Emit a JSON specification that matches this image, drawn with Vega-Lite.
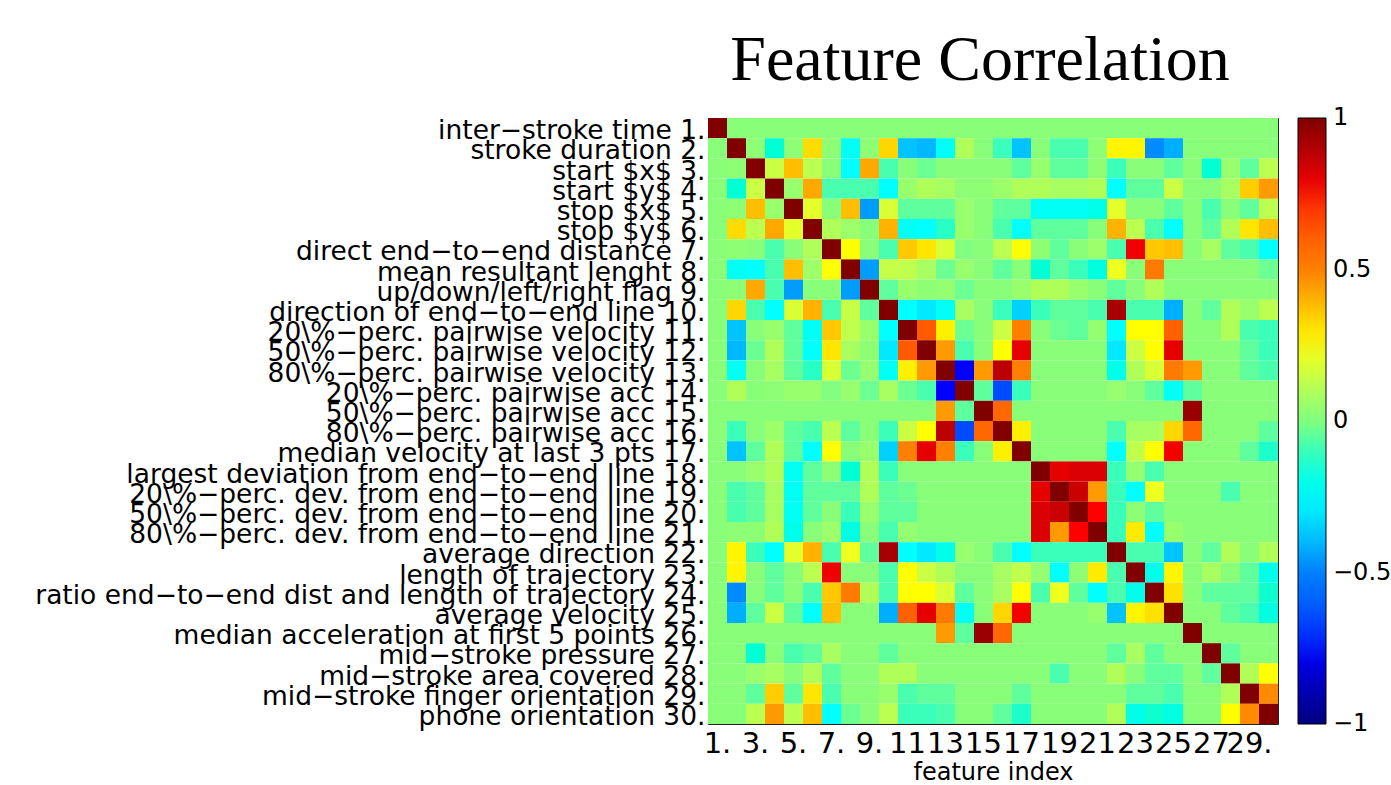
{
"$schema": "https://vega.github.io/schema/vega-lite/v6.json",
"autosize": "none",
"padding": {"left": 708, "top": 118, "right": 113, "bottom": 61},
"width": 570,
"height": 606,
"background": "white",
"title": {"text": "Feature Correlation", "font": "Liberation Serif", "fontSize": 64, "fontWeight": "normal", "color": "black", "anchor": "middle", "frame": "group", "baseline": "alphabetic", "offset": 38, "dx": -13, "dy": 64},
"datasets": {
"names": [
{"r":1,"name":"inter−stroke time 1."},
{"r":2,"name":"stroke duration 2."},
{"r":3,"name":"start $x$ 3."},
{"r":4,"name":"start $y$ 4."},
{"r":5,"name":"stop $x$ 5."},
{"r":6,"name":"stop $y$ 6."},
{"r":7,"name":"direct end−to−end distance 7."},
{"r":8,"name":"mean resultant lenght 8."},
{"r":9,"name":"up/down/left/right flag 9."},
{"r":10,"name":"direction of end−to−end line 10."},
{"r":11,"name":"20\\%−perc. pairwise velocity 11."},
{"r":12,"name":"50\\%−perc. pairwise velocity 12."},
{"r":13,"name":"80\\%−perc. pairwise velocity 13."},
{"r":14,"name":"20\\%−perc. pairwise acc 14."},
{"r":15,"name":"50\\%−perc. pairwise acc 15."},
{"r":16,"name":"80\\%−perc. pairwise acc 16."},
{"r":17,"name":"median velocity at last 3 pts 17."},
{"r":18,"name":"largest deviation from end−to−end line 18."},
{"r":19,"name":"20\\%−perc. dev. from end−to−end line 19."},
{"r":20,"name":"50\\%−perc. dev. from end−to−end line 20."},
{"r":21,"name":"80\\%−perc. dev. from end−to−end line 21."},
{"r":22,"name":"average direction 22."},
{"r":23,"name":"length of trajectory 23."},
{"r":24,"name":"ratio end−to−end dist and length of trajectory 24."},
{"r":25,"name":"average velocity 25."},
{"r":26,"name":"median acceleration at first 5 points 26."},
{"r":27,"name":"mid−stroke pressure 27."},
{"r":28,"name":"mid−stroke area covered 28."},
{"r":29,"name":"mid−stroke finger orientation 29."},
{"r":30,"name":"phone orientation 30."}
]
},
"data": {"values": [
{"r":1,"c":1,"v":1},{"r":1,"c":2,"v":0.02},{"r":1,"c":3,"v":0.02},{"r":1,"c":4,"v":0.02},{"r":1,"c":5,"v":0.02},{"r":1,"c":6,"v":0.02},{"r":1,"c":7,"v":0.02},{"r":1,"c":8,"v":0.02},{"r":1,"c":9,"v":0.02},{"r":1,"c":10,"v":0.02},{"r":1,"c":11,"v":0.02},{"r":1,"c":12,"v":0.02},{"r":1,"c":13,"v":0.02},{"r":1,"c":14,"v":0.02},{"r":1,"c":15,"v":0.02},{"r":1,"c":16,"v":0.02},{"r":1,"c":17,"v":0.02},{"r":1,"c":18,"v":0.02},{"r":1,"c":19,"v":0.02},{"r":1,"c":20,"v":0.02},{"r":1,"c":21,"v":0.02},{"r":1,"c":22,"v":0.02},{"r":1,"c":23,"v":0.02},{"r":1,"c":24,"v":0.02},{"r":1,"c":25,"v":0.02},{"r":1,"c":26,"v":0.02},{"r":1,"c":27,"v":0.02},{"r":1,"c":28,"v":0.02},{"r":1,"c":29,"v":0.02},{"r":1,"c":30,"v":0.02},
{"r":2,"c":1,"v":0.02},{"r":2,"c":2,"v":1},{"r":2,"c":3,"v":0.03},{"r":2,"c":4,"v":-0.15},{"r":2,"c":5,"v":0.03},{"r":2,"c":6,"v":0.32},{"r":2,"c":7,"v":0.03},{"r":2,"c":8,"v":-0.22},{"r":2,"c":9,"v":0.03},{"r":2,"c":10,"v":0.33},{"r":2,"c":11,"v":-0.38},{"r":2,"c":12,"v":-0.4},{"r":2,"c":13,"v":-0.22},{"r":2,"c":14,"v":0.1},{"r":2,"c":15,"v":0.02},{"r":2,"c":16,"v":-0.1},{"r":2,"c":17,"v":-0.38},{"r":2,"c":18,"v":0.02},{"r":2,"c":19,"v":-0.08},{"r":2,"c":20,"v":-0.08},{"r":2,"c":21,"v":0.03},{"r":2,"c":22,"v":0.27},{"r":2,"c":23,"v":0.27},{"r":2,"c":24,"v":-0.48},{"r":2,"c":25,"v":-0.42},{"r":2,"c":26,"v":0.02},{"r":2,"c":27,"v":0.02},{"r":2,"c":28,"v":0.02},{"r":2,"c":29,"v":0.02},{"r":2,"c":30,"v":0.02},
{"r":3,"c":1,"v":0.02},{"r":3,"c":2,"v":0.03},{"r":3,"c":3,"v":1},{"r":3,"c":4,"v":0.15},{"r":3,"c":5,"v":0.38},{"r":3,"c":6,"v":0.12},{"r":3,"c":7,"v":0.02},{"r":3,"c":8,"v":-0.25},{"r":3,"c":9,"v":0.42},{"r":3,"c":10,"v":-0.08},{"r":3,"c":11,"v":0.02},{"r":3,"c":12,"v":-0.03},{"r":3,"c":13,"v":0.02},{"r":3,"c":14,"v":0.02},{"r":3,"c":15,"v":0.02},{"r":3,"c":16,"v":0.02},{"r":3,"c":17,"v":-0.05},{"r":3,"c":18,"v":0.05},{"r":3,"c":19,"v":-0.05},{"r":3,"c":20,"v":-0.05},{"r":3,"c":21,"v":0.03},{"r":3,"c":22,"v":-0.1},{"r":3,"c":23,"v":0.02},{"r":3,"c":24,"v":0.02},{"r":3,"c":25,"v":-0.05},{"r":3,"c":26,"v":0.02},{"r":3,"c":27,"v":-0.15},{"r":3,"c":28,"v":0.05},{"r":3,"c":29,"v":-0.05},{"r":3,"c":30,"v":0.12},
{"r":4,"c":1,"v":0.02},{"r":4,"c":2,"v":-0.15},{"r":4,"c":3,"v":0.15},{"r":4,"c":4,"v":1},{"r":4,"c":5,"v":0.05},{"r":4,"c":6,"v":0.42},{"r":4,"c":7,"v":-0.08},{"r":4,"c":8,"v":-0.08},{"r":4,"c":9,"v":-0.08},{"r":4,"c":10,"v":-0.25},{"r":4,"c":11,"v":0.05},{"r":4,"c":12,"v":0.1},{"r":4,"c":13,"v":0.08},{"r":4,"c":14,"v":0.03},{"r":4,"c":15,"v":0.03},{"r":4,"c":16,"v":0.06},{"r":4,"c":17,"v":0.1},{"r":4,"c":18,"v":0.1},{"r":4,"c":19,"v":0.08},{"r":4,"c":20,"v":0.08},{"r":4,"c":21,"v":0.1},{"r":4,"c":22,"v":-0.25},{"r":4,"c":23,"v":-0.05},{"r":4,"c":24,"v":-0.05},{"r":4,"c":25,"v":0.15},{"r":4,"c":26,"v":0.02},{"r":4,"c":27,"v":0.02},{"r":4,"c":28,"v":0.08},{"r":4,"c":29,"v":0.35},{"r":4,"c":30,"v":0.45},
{"r":5,"c":1,"v":0.02},{"r":5,"c":2,"v":0.03},{"r":5,"c":3,"v":0.38},{"r":5,"c":4,"v":0.05},{"r":5,"c":5,"v":1},{"r":5,"c":6,"v":0.2},{"r":5,"c":7,"v":0.02},{"r":5,"c":8,"v":0.38},{"r":5,"c":9,"v":-0.45},{"r":5,"c":10,"v":0.18},{"r":5,"c":11,"v":-0.05},{"r":5,"c":12,"v":-0.05},{"r":5,"c":13,"v":-0.05},{"r":5,"c":14,"v":0.05},{"r":5,"c":15,"v":0.02},{"r":5,"c":16,"v":-0.05},{"r":5,"c":17,"v":-0.05},{"r":5,"c":18,"v":-0.22},{"r":5,"c":19,"v":-0.22},{"r":5,"c":20,"v":-0.22},{"r":5,"c":21,"v":-0.2},{"r":5,"c":22,"v":0.2},{"r":5,"c":23,"v":0.02},{"r":5,"c":24,"v":0.02},{"r":5,"c":25,"v":-0.05},{"r":5,"c":26,"v":0.02},{"r":5,"c":27,"v":-0.08},{"r":5,"c":28,"v":0.02},{"r":5,"c":29,"v":-0.05},{"r":5,"c":30,"v":0.12},
{"r":6,"c":1,"v":0.02},{"r":6,"c":2,"v":0.32},{"r":6,"c":3,"v":0.12},{"r":6,"c":4,"v":0.42},{"r":6,"c":5,"v":0.2},{"r":6,"c":6,"v":1},{"r":6,"c":7,"v":0.1},{"r":6,"c":8,"v":0.06},{"r":6,"c":9,"v":0.02},{"r":6,"c":10,"v":0.4},{"r":6,"c":11,"v":-0.22},{"r":6,"c":12,"v":-0.25},{"r":6,"c":13,"v":-0.12},{"r":6,"c":14,"v":0.05},{"r":6,"c":15,"v":0.02},{"r":6,"c":16,"v":-0.08},{"r":6,"c":17,"v":-0.25},{"r":6,"c":18,"v":-0.05},{"r":6,"c":19,"v":-0.05},{"r":6,"c":20,"v":-0.05},{"r":6,"c":21,"v":0.02},{"r":6,"c":22,"v":0.4},{"r":6,"c":23,"v":0.12},{"r":6,"c":24,"v":-0.08},{"r":6,"c":25,"v":-0.25},{"r":6,"c":26,"v":0.02},{"r":6,"c":27,"v":-0.05},{"r":6,"c":28,"v":0.1},{"r":6,"c":29,"v":0.3},{"r":6,"c":30,"v":0.38},
{"r":7,"c":1,"v":0.02},{"r":7,"c":2,"v":0.03},{"r":7,"c":3,"v":0.02},{"r":7,"c":4,"v":-0.08},{"r":7,"c":5,"v":0.02},{"r":7,"c":6,"v":0.1},{"r":7,"c":7,"v":1},{"r":7,"c":8,"v":0.25},{"r":7,"c":9,"v":0.02},{"r":7,"c":10,"v":-0.08},{"r":7,"c":11,"v":0.36},{"r":7,"c":12,"v":0.3},{"r":7,"c":13,"v":0.18},{"r":7,"c":14,"v":0},{"r":7,"c":15,"v":0.02},{"r":7,"c":16,"v":0.12},{"r":7,"c":17,"v":0.25},{"r":7,"c":18,"v":0.03},{"r":7,"c":19,"v":-0.05},{"r":7,"c":20,"v":0.02},{"r":7,"c":21,"v":0.06},{"r":7,"c":22,"v":-0.08},{"r":7,"c":23,"v":0.78},{"r":7,"c":24,"v":0.36},{"r":7,"c":25,"v":0.38},{"r":7,"c":26,"v":0.02},{"r":7,"c":27,"v":0.08},{"r":7,"c":28,"v":-0.05},{"r":7,"c":29,"v":-0.08},{"r":7,"c":30,"v":-0.25},
{"r":8,"c":1,"v":0.02},{"r":8,"c":2,"v":-0.22},{"r":8,"c":3,"v":-0.25},{"r":8,"c":4,"v":-0.08},{"r":8,"c":5,"v":0.38},{"r":8,"c":6,"v":0.06},{"r":8,"c":7,"v":0.25},{"r":8,"c":8,"v":1},{"r":8,"c":9,"v":-0.45},{"r":8,"c":10,"v":0.14},{"r":8,"c":11,"v":0.13},{"r":8,"c":12,"v":0.08},{"r":8,"c":13,"v":-0.03},{"r":8,"c":14,"v":0.05},{"r":8,"c":15,"v":0.02},{"r":8,"c":16,"v":-0.05},{"r":8,"c":17,"v":0.02},{"r":8,"c":18,"v":-0.15},{"r":8,"c":19,"v":-0.05},{"r":8,"c":20,"v":-0.1},{"r":8,"c":21,"v":-0.18},{"r":8,"c":22,"v":0.22},{"r":8,"c":23,"v":0.02},{"r":8,"c":24,"v":0.52},{"r":8,"c":25,"v":0.02},{"r":8,"c":26,"v":0.02},{"r":8,"c":27,"v":0.02},{"r":8,"c":28,"v":0.02},{"r":8,"c":29,"v":0.02},{"r":8,"c":30,"v":-0.03},
{"r":9,"c":1,"v":0.02},{"r":9,"c":2,"v":0.03},{"r":9,"c":3,"v":0.42},{"r":9,"c":4,"v":-0.08},{"r":9,"c":5,"v":-0.45},{"r":9,"c":6,"v":0.02},{"r":9,"c":7,"v":0.02},{"r":9,"c":8,"v":-0.45},{"r":9,"c":9,"v":1},{"r":9,"c":10,"v":-0.05},{"r":9,"c":11,"v":0.05},{"r":9,"c":12,"v":0.03},{"r":9,"c":13,"v":0.04},{"r":9,"c":14,"v":-0.03},{"r":9,"c":15,"v":0.02},{"r":9,"c":16,"v":0.02},{"r":9,"c":17,"v":0.05},{"r":9,"c":18,"v":0.1},{"r":9,"c":19,"v":0.1},{"r":9,"c":20,"v":0.05},{"r":9,"c":21,"v":0.02},{"r":9,"c":22,"v":-0.05},{"r":9,"c":23,"v":0.02},{"r":9,"c":24,"v":0.1},{"r":9,"c":25,"v":0.02},{"r":9,"c":26,"v":0.02},{"r":9,"c":27,"v":0.02},{"r":9,"c":28,"v":0.02},{"r":9,"c":29,"v":0.02},{"r":9,"c":30,"v":0.02},
{"r":10,"c":1,"v":0.02},{"r":10,"c":2,"v":0.33},{"r":10,"c":3,"v":-0.08},{"r":10,"c":4,"v":-0.25},{"r":10,"c":5,"v":0.18},{"r":10,"c":6,"v":0.4},{"r":10,"c":7,"v":-0.08},{"r":10,"c":8,"v":0.14},{"r":10,"c":9,"v":-0.05},{"r":10,"c":10,"v":1},{"r":10,"c":11,"v":-0.25},{"r":10,"c":12,"v":-0.3},{"r":10,"c":13,"v":-0.22},{"r":10,"c":14,"v":0.08},{"r":10,"c":15,"v":0.02},{"r":10,"c":16,"v":-0.1},{"r":10,"c":17,"v":-0.35},{"r":10,"c":18,"v":-0.1},{"r":10,"c":19,"v":-0.05},{"r":10,"c":20,"v":-0.05},{"r":10,"c":21,"v":-0.08},{"r":10,"c":22,"v":0.92},{"r":10,"c":23,"v":-0.08},{"r":10,"c":24,"v":-0.08},{"r":10,"c":25,"v":-0.42},{"r":10,"c":26,"v":0.02},{"r":10,"c":27,"v":-0.05},{"r":10,"c":28,"v":0.1},{"r":10,"c":29,"v":0.05},{"r":10,"c":30,"v":0.12},
{"r":11,"c":1,"v":0.02},{"r":11,"c":2,"v":-0.38},{"r":11,"c":3,"v":0.02},{"r":11,"c":4,"v":0.05},{"r":11,"c":5,"v":-0.05},{"r":11,"c":6,"v":-0.22},{"r":11,"c":7,"v":0.36},{"r":11,"c":8,"v":0.13},{"r":11,"c":9,"v":0.05},{"r":11,"c":10,"v":-0.25},{"r":11,"c":11,"v":1},{"r":11,"c":12,"v":0.62},{"r":11,"c":13,"v":0.28},{"r":11,"c":14,"v":-0.03},{"r":11,"c":15,"v":0.02},{"r":11,"c":16,"v":0.15},{"r":11,"c":17,"v":0.5},{"r":11,"c":18,"v":0.02},{"r":11,"c":19,"v":-0.03},{"r":11,"c":20,"v":-0.05},{"r":11,"c":21,"v":0.04},{"r":11,"c":22,"v":-0.25},{"r":11,"c":23,"v":0.25},{"r":11,"c":24,"v":0.25},{"r":11,"c":25,"v":0.6},{"r":11,"c":26,"v":0.02},{"r":11,"c":27,"v":0.02},{"r":11,"c":28,"v":0.1},{"r":11,"c":29,"v":-0.08},{"r":11,"c":30,"v":-0.1},
{"r":12,"c":1,"v":0.02},{"r":12,"c":2,"v":-0.4},{"r":12,"c":3,"v":-0.03},{"r":12,"c":4,"v":0.1},{"r":12,"c":5,"v":-0.05},{"r":12,"c":6,"v":-0.25},{"r":12,"c":7,"v":0.3},{"r":12,"c":8,"v":0.08},{"r":12,"c":9,"v":0.03},{"r":12,"c":10,"v":-0.3},{"r":12,"c":11,"v":0.62},{"r":12,"c":12,"v":1},{"r":12,"c":13,"v":0.45},{"r":12,"c":14,"v":-0.08},{"r":12,"c":15,"v":0.02},{"r":12,"c":16,"v":0.25},{"r":12,"c":17,"v":0.8},{"r":12,"c":18,"v":0.02},{"r":12,"c":19,"v":0.02},{"r":12,"c":20,"v":0.02},{"r":12,"c":21,"v":0.02},{"r":12,"c":22,"v":-0.3},{"r":12,"c":23,"v":0.15},{"r":12,"c":24,"v":0.25},{"r":12,"c":25,"v":0.8},{"r":12,"c":26,"v":0.02},{"r":12,"c":27,"v":0.02},{"r":12,"c":28,"v":0.02},{"r":12,"c":29,"v":-0.05},{"r":12,"c":30,"v":-0.1},
{"r":13,"c":1,"v":0.02},{"r":13,"c":2,"v":-0.22},{"r":13,"c":3,"v":0.02},{"r":13,"c":4,"v":0.08},{"r":13,"c":5,"v":-0.05},{"r":13,"c":6,"v":-0.12},{"r":13,"c":7,"v":0.18},{"r":13,"c":8,"v":-0.03},{"r":13,"c":9,"v":0.04},{"r":13,"c":10,"v":-0.22},{"r":13,"c":11,"v":0.28},{"r":13,"c":12,"v":0.45},{"r":13,"c":13,"v":1},{"r":13,"c":14,"v":-0.75},{"r":13,"c":15,"v":0.45},{"r":13,"c":16,"v":0.88},{"r":13,"c":17,"v":0.5},{"r":13,"c":18,"v":0.02},{"r":13,"c":19,"v":0.02},{"r":13,"c":20,"v":0.02},{"r":13,"c":21,"v":0.02},{"r":13,"c":22,"v":-0.2},{"r":13,"c":23,"v":0.1},{"r":13,"c":24,"v":0.18},{"r":13,"c":25,"v":0.52},{"r":13,"c":26,"v":0.45},{"r":13,"c":27,"v":0.02},{"r":13,"c":28,"v":0.02},{"r":13,"c":29,"v":-0.05},{"r":13,"c":30,"v":-0.08},
{"r":14,"c":1,"v":0.02},{"r":14,"c":2,"v":0.1},{"r":14,"c":3,"v":0.02},{"r":14,"c":4,"v":0.03},{"r":14,"c":5,"v":0.05},{"r":14,"c":6,"v":0.05},{"r":14,"c":7,"v":0},{"r":14,"c":8,"v":0.05},{"r":14,"c":9,"v":-0.03},{"r":14,"c":10,"v":0.08},{"r":14,"c":11,"v":-0.03},{"r":14,"c":12,"v":-0.08},{"r":14,"c":13,"v":-0.75},{"r":14,"c":14,"v":1},{"r":14,"c":15,"v":-0.05},{"r":14,"c":16,"v":-0.65},{"r":14,"c":17,"v":-0.1},{"r":14,"c":18,"v":0.02},{"r":14,"c":19,"v":0.02},{"r":14,"c":20,"v":0.02},{"r":14,"c":21,"v":0.02},{"r":14,"c":22,"v":0.05},{"r":14,"c":23,"v":0.02},{"r":14,"c":24,"v":-0.05},{"r":14,"c":25,"v":-0.22},{"r":14,"c":26,"v":-0.05},{"r":14,"c":27,"v":0.02},{"r":14,"c":28,"v":0.02},{"r":14,"c":29,"v":0.02},{"r":14,"c":30,"v":0.02},
{"r":15,"c":1,"v":0.02},{"r":15,"c":2,"v":0.02},{"r":15,"c":3,"v":0.02},{"r":15,"c":4,"v":0.02},{"r":15,"c":5,"v":0.02},{"r":15,"c":6,"v":0.02},{"r":15,"c":7,"v":0.02},{"r":15,"c":8,"v":0.02},{"r":15,"c":9,"v":0.02},{"r":15,"c":10,"v":0.02},{"r":15,"c":11,"v":0.02},{"r":15,"c":12,"v":0.02},{"r":15,"c":13,"v":0.45},{"r":15,"c":14,"v":-0.05},{"r":15,"c":15,"v":1},{"r":15,"c":16,"v":0.58},{"r":15,"c":17,"v":0.02},{"r":15,"c":18,"v":0.02},{"r":15,"c":19,"v":0.02},{"r":15,"c":20,"v":0.02},{"r":15,"c":21,"v":0.02},{"r":15,"c":22,"v":0.02},{"r":15,"c":23,"v":0.02},{"r":15,"c":24,"v":0.02},{"r":15,"c":25,"v":0.02},{"r":15,"c":26,"v":0.95},{"r":15,"c":27,"v":0.02},{"r":15,"c":28,"v":0.02},{"r":15,"c":29,"v":0.02},{"r":15,"c":30,"v":0.02},
{"r":16,"c":1,"v":0.02},{"r":16,"c":2,"v":-0.1},{"r":16,"c":3,"v":0.02},{"r":16,"c":4,"v":0.06},{"r":16,"c":5,"v":-0.05},{"r":16,"c":6,"v":-0.08},{"r":16,"c":7,"v":0.12},{"r":16,"c":8,"v":-0.05},{"r":16,"c":9,"v":0.02},{"r":16,"c":10,"v":-0.1},{"r":16,"c":11,"v":0.15},{"r":16,"c":12,"v":0.25},{"r":16,"c":13,"v":0.88},{"r":16,"c":14,"v":-0.65},{"r":16,"c":15,"v":0.58},{"r":16,"c":16,"v":1},{"r":16,"c":17,"v":0.28},{"r":16,"c":18,"v":0.02},{"r":16,"c":19,"v":0.02},{"r":16,"c":20,"v":0.02},{"r":16,"c":21,"v":0.02},{"r":16,"c":22,"v":-0.08},{"r":16,"c":23,"v":0.08},{"r":16,"c":24,"v":0.08},{"r":16,"c":25,"v":0.33},{"r":16,"c":26,"v":0.58},{"r":16,"c":27,"v":0.02},{"r":16,"c":28,"v":0.02},{"r":16,"c":29,"v":0.02},{"r":16,"c":30,"v":-0.05},
{"r":17,"c":1,"v":0.02},{"r":17,"c":2,"v":-0.38},{"r":17,"c":3,"v":-0.05},{"r":17,"c":4,"v":0.1},{"r":17,"c":5,"v":-0.05},{"r":17,"c":6,"v":-0.25},{"r":17,"c":7,"v":0.25},{"r":17,"c":8,"v":0.02},{"r":17,"c":9,"v":0.05},{"r":17,"c":10,"v":-0.35},{"r":17,"c":11,"v":0.5},{"r":17,"c":12,"v":0.8},{"r":17,"c":13,"v":0.5},{"r":17,"c":14,"v":-0.1},{"r":17,"c":15,"v":0.02},{"r":17,"c":16,"v":0.28},{"r":17,"c":17,"v":1},{"r":17,"c":18,"v":0.02},{"r":17,"c":19,"v":0.02},{"r":17,"c":20,"v":0.02},{"r":17,"c":21,"v":0.02},{"r":17,"c":22,"v":-0.25},{"r":17,"c":23,"v":0.13},{"r":17,"c":24,"v":0.25},{"r":17,"c":25,"v":0.77},{"r":17,"c":26,"v":0.02},{"r":17,"c":27,"v":0.02},{"r":17,"c":28,"v":0.02},{"r":17,"c":29,"v":-0.05},{"r":17,"c":30,"v":-0.13},
{"r":18,"c":1,"v":0.02},{"r":18,"c":2,"v":0.02},{"r":18,"c":3,"v":0.05},{"r":18,"c":4,"v":0.1},{"r":18,"c":5,"v":-0.22},{"r":18,"c":6,"v":-0.05},{"r":18,"c":7,"v":0.03},{"r":18,"c":8,"v":-0.15},{"r":18,"c":9,"v":0.1},{"r":18,"c":10,"v":-0.1},{"r":18,"c":11,"v":0.02},{"r":18,"c":12,"v":0.02},{"r":18,"c":13,"v":0.02},{"r":18,"c":14,"v":0.02},{"r":18,"c":15,"v":0.02},{"r":18,"c":16,"v":0.02},{"r":18,"c":17,"v":0.02},{"r":18,"c":18,"v":1},{"r":18,"c":19,"v":0.8},{"r":18,"c":20,"v":0.82},{"r":18,"c":21,"v":0.82},{"r":18,"c":22,"v":-0.1},{"r":18,"c":23,"v":0.04},{"r":18,"c":24,"v":-0.08},{"r":18,"c":25,"v":0.02},{"r":18,"c":26,"v":0.02},{"r":18,"c":27,"v":0.02},{"r":18,"c":28,"v":0.02},{"r":18,"c":29,"v":0.02},{"r":18,"c":30,"v":0.02},
{"r":19,"c":1,"v":0.02},{"r":19,"c":2,"v":-0.08},{"r":19,"c":3,"v":-0.05},{"r":19,"c":4,"v":0.08},{"r":19,"c":5,"v":-0.22},{"r":19,"c":6,"v":-0.05},{"r":19,"c":7,"v":-0.05},{"r":19,"c":8,"v":-0.05},{"r":19,"c":9,"v":0.1},{"r":19,"c":10,"v":-0.05},{"r":19,"c":11,"v":-0.03},{"r":19,"c":12,"v":0.02},{"r":19,"c":13,"v":0.02},{"r":19,"c":14,"v":0.02},{"r":19,"c":15,"v":0.02},{"r":19,"c":16,"v":0.02},{"r":19,"c":17,"v":0.02},{"r":19,"c":18,"v":0.8},{"r":19,"c":19,"v":1},{"r":19,"c":20,"v":0.85},{"r":19,"c":21,"v":0.45},{"r":19,"c":22,"v":-0.1},{"r":19,"c":23,"v":-0.25},{"r":19,"c":24,"v":0.22},{"r":19,"c":25,"v":0.02},{"r":19,"c":26,"v":0.02},{"r":19,"c":27,"v":0.02},{"r":19,"c":28,"v":-0.08},{"r":19,"c":29,"v":0.02},{"r":19,"c":30,"v":0.02},
{"r":20,"c":1,"v":0.02},{"r":20,"c":2,"v":-0.08},{"r":20,"c":3,"v":-0.05},{"r":20,"c":4,"v":0.08},{"r":20,"c":5,"v":-0.22},{"r":20,"c":6,"v":-0.05},{"r":20,"c":7,"v":0.02},{"r":20,"c":8,"v":-0.1},{"r":20,"c":9,"v":0.05},{"r":20,"c":10,"v":-0.05},{"r":20,"c":11,"v":-0.05},{"r":20,"c":12,"v":0.02},{"r":20,"c":13,"v":0.02},{"r":20,"c":14,"v":0.02},{"r":20,"c":15,"v":0.02},{"r":20,"c":16,"v":0.02},{"r":20,"c":17,"v":0.02},{"r":20,"c":18,"v":0.82},{"r":20,"c":19,"v":0.85},{"r":20,"c":20,"v":1},{"r":20,"c":21,"v":0.75},{"r":20,"c":22,"v":-0.1},{"r":20,"c":23,"v":0.03},{"r":20,"c":24,"v":-0.05},{"r":20,"c":25,"v":0.02},{"r":20,"c":26,"v":0.02},{"r":20,"c":27,"v":0.02},{"r":20,"c":28,"v":0.02},{"r":20,"c":29,"v":0.02},{"r":20,"c":30,"v":0.02},
{"r":21,"c":1,"v":0.02},{"r":21,"c":2,"v":0.03},{"r":21,"c":3,"v":0.03},{"r":21,"c":4,"v":0.1},{"r":21,"c":5,"v":-0.2},{"r":21,"c":6,"v":0.02},{"r":21,"c":7,"v":0.06},{"r":21,"c":8,"v":-0.18},{"r":21,"c":9,"v":0.02},{"r":21,"c":10,"v":-0.08},{"r":21,"c":11,"v":0.04},{"r":21,"c":12,"v":0.02},{"r":21,"c":13,"v":0.02},{"r":21,"c":14,"v":0.02},{"r":21,"c":15,"v":0.02},{"r":21,"c":16,"v":0.02},{"r":21,"c":17,"v":0.02},{"r":21,"c":18,"v":0.82},{"r":21,"c":19,"v":0.45},{"r":21,"c":20,"v":0.75},{"r":21,"c":21,"v":1},{"r":21,"c":22,"v":-0.1},{"r":21,"c":23,"v":0.29},{"r":21,"c":24,"v":-0.25},{"r":21,"c":25,"v":0.05},{"r":21,"c":26,"v":0.02},{"r":21,"c":27,"v":0.02},{"r":21,"c":28,"v":0.02},{"r":21,"c":29,"v":0.02},{"r":21,"c":30,"v":0.02},
{"r":22,"c":1,"v":0.02},{"r":22,"c":2,"v":0.27},{"r":22,"c":3,"v":-0.1},{"r":22,"c":4,"v":-0.25},{"r":22,"c":5,"v":0.2},{"r":22,"c":6,"v":0.4},{"r":22,"c":7,"v":-0.08},{"r":22,"c":8,"v":0.22},{"r":22,"c":9,"v":-0.05},{"r":22,"c":10,"v":0.92},{"r":22,"c":11,"v":-0.25},{"r":22,"c":12,"v":-0.3},{"r":22,"c":13,"v":-0.2},{"r":22,"c":14,"v":0.05},{"r":22,"c":15,"v":0.02},{"r":22,"c":16,"v":-0.08},{"r":22,"c":17,"v":-0.25},{"r":22,"c":18,"v":-0.1},{"r":22,"c":19,"v":-0.1},{"r":22,"c":20,"v":-0.1},{"r":22,"c":21,"v":-0.1},{"r":22,"c":22,"v":1},{"r":22,"c":23,"v":-0.08},{"r":22,"c":24,"v":-0.08},{"r":22,"c":25,"v":-0.38},{"r":22,"c":26,"v":0.02},{"r":22,"c":27,"v":-0.05},{"r":22,"c":28,"v":0.1},{"r":22,"c":29,"v":0.02},{"r":22,"c":30,"v":0.1},
{"r":23,"c":1,"v":0.02},{"r":23,"c":2,"v":0.27},{"r":23,"c":3,"v":0.02},{"r":23,"c":4,"v":-0.05},{"r":23,"c":5,"v":0.02},{"r":23,"c":6,"v":0.12},{"r":23,"c":7,"v":0.78},{"r":23,"c":8,"v":0.02},{"r":23,"c":9,"v":0.02},{"r":23,"c":10,"v":-0.08},{"r":23,"c":11,"v":0.25},{"r":23,"c":12,"v":0.15},{"r":23,"c":13,"v":0.1},{"r":23,"c":14,"v":0.02},{"r":23,"c":15,"v":0.02},{"r":23,"c":16,"v":0.08},{"r":23,"c":17,"v":0.13},{"r":23,"c":18,"v":0.04},{"r":23,"c":19,"v":-0.25},{"r":23,"c":20,"v":0.03},{"r":23,"c":21,"v":0.29},{"r":23,"c":22,"v":-0.08},{"r":23,"c":23,"v":1},{"r":23,"c":24,"v":-0.2},{"r":23,"c":25,"v":0.27},{"r":23,"c":26,"v":0.02},{"r":23,"c":27,"v":0.08},{"r":23,"c":28,"v":0.02},{"r":23,"c":29,"v":-0.05},{"r":23,"c":30,"v":-0.2},
{"r":24,"c":1,"v":0.02},{"r":24,"c":2,"v":-0.48},{"r":24,"c":3,"v":0.02},{"r":24,"c":4,"v":-0.05},{"r":24,"c":5,"v":0.02},{"r":24,"c":6,"v":-0.08},{"r":24,"c":7,"v":0.36},{"r":24,"c":8,"v":0.52},{"r":24,"c":9,"v":0.1},{"r":24,"c":10,"v":-0.08},{"r":24,"c":11,"v":0.25},{"r":24,"c":12,"v":0.25},{"r":24,"c":13,"v":0.18},{"r":24,"c":14,"v":-0.05},{"r":24,"c":15,"v":0.02},{"r":24,"c":16,"v":0.08},{"r":24,"c":17,"v":0.25},{"r":24,"c":18,"v":-0.08},{"r":24,"c":19,"v":0.22},{"r":24,"c":20,"v":-0.05},{"r":24,"c":21,"v":-0.25},{"r":24,"c":22,"v":-0.08},{"r":24,"c":23,"v":-0.2},{"r":24,"c":24,"v":1},{"r":24,"c":25,"v":0.31},{"r":24,"c":26,"v":0.02},{"r":24,"c":27,"v":-0.05},{"r":24,"c":28,"v":-0.05},{"r":24,"c":29,"v":-0.05},{"r":24,"c":30,"v":-0.14},
{"r":25,"c":1,"v":0.02},{"r":25,"c":2,"v":-0.42},{"r":25,"c":3,"v":-0.05},{"r":25,"c":4,"v":0.15},{"r":25,"c":5,"v":-0.05},{"r":25,"c":6,"v":-0.25},{"r":25,"c":7,"v":0.38},{"r":25,"c":8,"v":0.02},{"r":25,"c":9,"v":0.02},{"r":25,"c":10,"v":-0.42},{"r":25,"c":11,"v":0.6},{"r":25,"c":12,"v":0.8},{"r":25,"c":13,"v":0.52},{"r":25,"c":14,"v":-0.22},{"r":25,"c":15,"v":0.02},{"r":25,"c":16,"v":0.33},{"r":25,"c":17,"v":0.77},{"r":25,"c":18,"v":0.02},{"r":25,"c":19,"v":0.02},{"r":25,"c":20,"v":0.02},{"r":25,"c":21,"v":0.05},{"r":25,"c":22,"v":-0.38},{"r":25,"c":23,"v":0.27},{"r":25,"c":24,"v":0.31},{"r":25,"c":25,"v":1},{"r":25,"c":26,"v":0.02},{"r":25,"c":27,"v":0.02},{"r":25,"c":28,"v":-0.05},{"r":25,"c":29,"v":-0.08},{"r":25,"c":30,"v":-0.18},
{"r":26,"c":1,"v":0.02},{"r":26,"c":2,"v":0.02},{"r":26,"c":3,"v":0.02},{"r":26,"c":4,"v":0.02},{"r":26,"c":5,"v":0.02},{"r":26,"c":6,"v":0.02},{"r":26,"c":7,"v":0.02},{"r":26,"c":8,"v":0.02},{"r":26,"c":9,"v":0.02},{"r":26,"c":10,"v":0.02},{"r":26,"c":11,"v":0.02},{"r":26,"c":12,"v":0.02},{"r":26,"c":13,"v":0.45},{"r":26,"c":14,"v":-0.05},{"r":26,"c":15,"v":0.95},{"r":26,"c":16,"v":0.58},{"r":26,"c":17,"v":0.02},{"r":26,"c":18,"v":0.02},{"r":26,"c":19,"v":0.02},{"r":26,"c":20,"v":0.02},{"r":26,"c":21,"v":0.02},{"r":26,"c":22,"v":0.02},{"r":26,"c":23,"v":0.02},{"r":26,"c":24,"v":0.02},{"r":26,"c":25,"v":0.02},{"r":26,"c":26,"v":1},{"r":26,"c":27,"v":0.02},{"r":26,"c":28,"v":0.02},{"r":26,"c":29,"v":0.02},{"r":26,"c":30,"v":0.02},
{"r":27,"c":1,"v":0.02},{"r":27,"c":2,"v":0.02},{"r":27,"c":3,"v":-0.15},{"r":27,"c":4,"v":0.02},{"r":27,"c":5,"v":-0.08},{"r":27,"c":6,"v":-0.05},{"r":27,"c":7,"v":0.08},{"r":27,"c":8,"v":0.02},{"r":27,"c":9,"v":0.02},{"r":27,"c":10,"v":-0.05},{"r":27,"c":11,"v":0.02},{"r":27,"c":12,"v":0.02},{"r":27,"c":13,"v":0.02},{"r":27,"c":14,"v":0.02},{"r":27,"c":15,"v":0.02},{"r":27,"c":16,"v":0.02},{"r":27,"c":17,"v":0.02},{"r":27,"c":18,"v":0.02},{"r":27,"c":19,"v":0.02},{"r":27,"c":20,"v":0.02},{"r":27,"c":21,"v":0.02},{"r":27,"c":22,"v":-0.05},{"r":27,"c":23,"v":0.08},{"r":27,"c":24,"v":-0.05},{"r":27,"c":25,"v":0.02},{"r":27,"c":26,"v":0.02},{"r":27,"c":27,"v":1},{"r":27,"c":28,"v":-0.05},{"r":27,"c":29,"v":0.02},{"r":27,"c":30,"v":0.02},
{"r":28,"c":1,"v":0.02},{"r":28,"c":2,"v":0.02},{"r":28,"c":3,"v":0.05},{"r":28,"c":4,"v":0.08},{"r":28,"c":5,"v":0.02},{"r":28,"c":6,"v":0.1},{"r":28,"c":7,"v":-0.05},{"r":28,"c":8,"v":0.02},{"r":28,"c":9,"v":0.02},{"r":28,"c":10,"v":0.1},{"r":28,"c":11,"v":0.1},{"r":28,"c":12,"v":0.02},{"r":28,"c":13,"v":0.02},{"r":28,"c":14,"v":0.02},{"r":28,"c":15,"v":0.02},{"r":28,"c":16,"v":0.02},{"r":28,"c":17,"v":0.02},{"r":28,"c":18,"v":0.02},{"r":28,"c":19,"v":-0.08},{"r":28,"c":20,"v":0.02},{"r":28,"c":21,"v":0.02},{"r":28,"c":22,"v":0.1},{"r":28,"c":23,"v":0.02},{"r":28,"c":24,"v":-0.05},{"r":28,"c":25,"v":-0.05},{"r":28,"c":26,"v":0.02},{"r":28,"c":27,"v":-0.05},{"r":28,"c":28,"v":1},{"r":28,"c":29,"v":0.1},{"r":28,"c":30,"v":0.25},
{"r":29,"c":1,"v":0.02},{"r":29,"c":2,"v":0.02},{"r":29,"c":3,"v":-0.05},{"r":29,"c":4,"v":0.35},{"r":29,"c":5,"v":-0.05},{"r":29,"c":6,"v":0.3},{"r":29,"c":7,"v":-0.08},{"r":29,"c":8,"v":0.02},{"r":29,"c":9,"v":0.02},{"r":29,"c":10,"v":0.05},{"r":29,"c":11,"v":-0.08},{"r":29,"c":12,"v":-0.05},{"r":29,"c":13,"v":-0.05},{"r":29,"c":14,"v":0.02},{"r":29,"c":15,"v":0.02},{"r":29,"c":16,"v":0.02},{"r":29,"c":17,"v":-0.05},{"r":29,"c":18,"v":0.02},{"r":29,"c":19,"v":0.02},{"r":29,"c":20,"v":0.02},{"r":29,"c":21,"v":0.02},{"r":29,"c":22,"v":0.02},{"r":29,"c":23,"v":-0.05},{"r":29,"c":24,"v":-0.05},{"r":29,"c":25,"v":-0.08},{"r":29,"c":26,"v":0.02},{"r":29,"c":27,"v":0.02},{"r":29,"c":28,"v":0.1},{"r":29,"c":29,"v":1},{"r":29,"c":30,"v":0.48},
{"r":30,"c":1,"v":0.02},{"r":30,"c":2,"v":0.02},{"r":30,"c":3,"v":0.12},{"r":30,"c":4,"v":0.45},{"r":30,"c":5,"v":0.12},{"r":30,"c":6,"v":0.38},{"r":30,"c":7,"v":-0.25},{"r":30,"c":8,"v":-0.03},{"r":30,"c":9,"v":0.02},{"r":30,"c":10,"v":0.12},{"r":30,"c":11,"v":-0.1},{"r":30,"c":12,"v":-0.1},{"r":30,"c":13,"v":-0.08},{"r":30,"c":14,"v":0.02},{"r":30,"c":15,"v":0.02},{"r":30,"c":16,"v":-0.05},{"r":30,"c":17,"v":-0.13},{"r":30,"c":18,"v":0.02},{"r":30,"c":19,"v":0.02},{"r":30,"c":20,"v":0.02},{"r":30,"c":21,"v":0.02},{"r":30,"c":22,"v":0.1},{"r":30,"c":23,"v":-0.2},{"r":30,"c":24,"v":-0.14},{"r":30,"c":25,"v":-0.18},{"r":30,"c":26,"v":0.02},{"r":30,"c":27,"v":0.02},{"r":30,"c":28,"v":0.25},{"r":30,"c":29,"v":0.48},{"r":30,"c":30,"v":1}
]},
"transform": [{"lookup": "r", "from": {"data": {"name": "names"}, "key": "r", "fields": ["name"]}}],
"mark": {"type": "rect"},
"encoding": {
"x": {"field": "c", "type": "ordinal", "scale": {"padding": 0},
 "axis": {"title": "feature index", "titleFont": "DejaVu Sans", "titleFontSize": 24, "titleFontWeight": "normal", "titleColor": "black", "titlePadding": 2,
  "labelFont": "DejaVu Sans", "labelFontSize": 29, "labelColor": "black", "labelAngle": 0, "labelOverlap": false, "labelPadding": 5, "ticks": false, "domain": false,
  "labelExpr": "datum.value % 2 == 1 ? ((datum.value < 10 || datum.value == 29) ? datum.value + '.' : '' + datum.value) : ''"}},
"y": {"field": "name", "type": "ordinal", "sort": {"field": "r", "op": "min"}, "scale": {"padding": 0},
 "axis": {"title": null, "labelFont": "DejaVu Sans", "labelFontSize": 26.5, "labelColor": "black", "labelPadding": 3, "labelOffset": 3, "labelLimit": 900, "labelOverlap": false, "ticks": false, "domain": false}},
"color": {"field": "v", "type": "quantitative",
 "scale": {"domain": [-1, -0.75, -0.5, -0.25, 0, 0.25, 0.5, 0.75, 1], "range": ["#000080", "#0000ff", "#0080ff", "#00ffff", "#80ff80", "#ffff00", "#ff8000", "#ff0000", "#800000"]},
 "legend": {"title": null, "orient": "right", "offset": 20, "direction": "vertical", "gradientLength": 606, "gradientThickness": 28, "gradientStrokeColor": "black", "gradientStrokeWidth": 1, "values": [-1, -0.5, 0, 0.5, 1], "format": "~g", "labelFont": "DejaVu Sans", "labelFontSize": 24, "labelColor": "black", "labelOffset": 7, "labelBaseline": "middle", "padding": 0,
  "encode": {"labels": {"update": {"baseline": {"value": "middle"}}}}}}
},
"config": {"view": {"stroke": "#222", "strokeWidth": 1}}
}
